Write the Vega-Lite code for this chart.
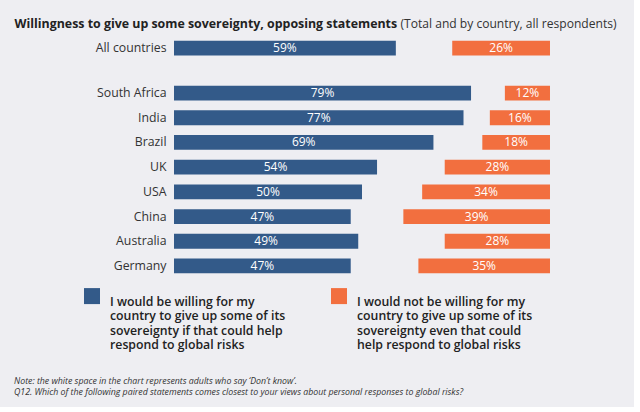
{
  "$schema": "https://vega.github.io/schema/vega-lite/v6.json",
  "background": "#eeeef2",
  "padding": {"left": 14, "top": 16.7, "right": 17, "bottom": 10},
  "autosize": {"type": "pad"},
  "config": {
    "font": "Open Sans",
    "view": {"stroke": null},
    "axis": {"grid": false, "domain": false, "ticks": false},
    "axisY": {"labelFontSize": 12.3, "labelColor": "#333333", "labelPadding": 8},
    "concat": {"spacing": 20},
    "legend": {
      "orient": "none",
      "legendX": -90,
      "legendY": 252,
      "direction": "horizontal",
      "columns": 2,
      "symbolType": "square",
      "symbolSize": 256,
      "symbolStrokeWidth": 0,
      "symbolOpacity": 1,
      "labelFontSize": 12.3,
      "labelFontWeight": 600,
      "labelColor": "#222222",
      "labelLimit": 300,
      "labelBaseline": "top",
      "labelOffset": 10,
      "columnPadding": 45
    }
  },
  "datasets": {
    "total": [
      {"country": "All countries", "willing": 0.59, "notWilling": 0.26}
    ],
    "countries": [
      {"country": "South Africa", "willing": 0.79, "notWilling": 0.12},
      {"country": "India", "willing": 0.77, "notWilling": 0.16},
      {"country": "Brazil", "willing": 0.69, "notWilling": 0.18},
      {"country": "UK", "willing": 0.54, "notWilling": 0.28},
      {"country": "USA", "willing": 0.50, "notWilling": 0.34},
      {"country": "China", "willing": 0.47, "notWilling": 0.39},
      {"country": "Australia", "willing": 0.49, "notWilling": 0.28},
      {"country": "Germany", "willing": 0.47, "notWilling": 0.35}
    ]
  },
  "title": {
    "text": [
      "Note: the white space in the chart represents adults who say ‘Don’t know’.",
      "Q12. Which of the following paired statements comes closest to your views about personal responses to global risks?"
    ],
    "orient": "bottom",
    "anchor": "start",
    "frame": "bounds",
    "fontSize": 8.8,
    "fontStyle": "italic",
    "fontWeight": "normal",
    "color": "#333333",
    "lineHeight": 11,
    "offset": 25
  },
  "vconcat": [
    {
      "data": {"name": "total"},
      "width": 376,
      "height": 24.7,
      "encoding": {
        "y": {
          "field": "country",
          "type": "nominal",
          "sort": null,
          "scale": {"paddingInner": 0.4, "paddingOuter": 0.2},
          "axis": {
            "title": "Willingness to give up some sovereignty, opposing statements",
            "titleAngle": 0,
            "titleAlign": "left",
            "titleBaseline": "alphabetic",
            "titleX": -160,
            "titleY": -8.65,
            "titleFontSize": 12.4,
            "titleFontWeight": "bold",
            "titleColor": "#222222"
          }
        }
      },
      "layer": [
        {
          "mark": {"type": "bar"},
          "encoding": {
            "x": {
              "field": "willing",
              "type": "quantitative",
              "scale": {"domain": [0, 1]},
              "axis": {
                "orient": "top",
                "labels": false,
                "title": "(Total and by country, all respondents)",
                "titleX": 226,
                "titleY": -8.65,
                "titleAlign": "left",
                "titleBaseline": "alphabetic",
                "titleFontSize": 12.1,
                "titleFontWeight": "normal",
                "titleColor": "#333333"
              }
            },
            "color": {
              "datum": "willing",
              "scale": {"domain": ["willing", "not"], "range": ["#335a89", "#f26f3f"]},
              "legend": {
                "title": null,
                "labelExpr": "datum.value == 'willing' ? ['I would be willing for my', 'country to give up some of its', 'sovereignty if that could help', 'respond to global risks'] : ['I would not be willing for my', 'country to give up some of its', 'sovereignty even that could', 'help respond to global risks']"
              }
            }
          }
        },
        {
          "mark": {"type": "bar"},
          "encoding": {
            "x": {
              "field": "notWilling",
              "type": "quantitative",
              "scale": {"domain": [0, 1], "reverse": true},
              "axis": null
            },
            "color": {
              "datum": "not",
              "scale": {"domain": ["willing", "not"], "range": ["#335a89", "#f26f3f"]}
            }
          }
        },
        {
          "mark": {"type": "text", "color": "white", "fontSize": 12},
          "encoding": {
            "x": {"field": "willing", "type": "quantitative", "scale": {"domain": [0, 2]}, "axis": null},
            "text": {"field": "willing", "type": "quantitative", "format": ".0%"}
          }
        },
        {
          "mark": {"type": "text", "color": "white", "fontSize": 12},
          "encoding": {
            "x": {"field": "notWilling", "type": "quantitative", "scale": {"domain": [0, 2], "reverse": true}, "axis": null},
            "text": {"field": "notWilling", "type": "quantitative", "format": ".0%"}
          }
        }
      ],
      "resolve": {"scale": {"x": "independent"}}
    },
    {
      "data": {"name": "countries"},
      "width": 376,
      "height": 197.6,
      "encoding": {
        "y": {
          "field": "country",
          "type": "nominal",
          "sort": null,
          "scale": {"paddingInner": 0.4, "paddingOuter": 0.2},
          "axis": {"title": null}
        }
      },
      "layer": [
        {
          "mark": {"type": "bar"},
          "encoding": {
            "x": {"field": "willing", "type": "quantitative", "scale": {"domain": [0, 1]}, "axis": null},
            "color": {
              "datum": "willing",
              "scale": {"domain": ["willing", "not"], "range": ["#335a89", "#f26f3f"]}
            }
          }
        },
        {
          "mark": {"type": "bar"},
          "encoding": {
            "x": {"field": "notWilling", "type": "quantitative", "scale": {"domain": [0, 1], "reverse": true}, "axis": null},
            "color": {
              "datum": "not",
              "scale": {"domain": ["willing", "not"], "range": ["#335a89", "#f26f3f"]}
            }
          }
        },
        {
          "mark": {"type": "text", "color": "white", "fontSize": 12},
          "encoding": {
            "x": {"field": "willing", "type": "quantitative", "scale": {"domain": [0, 2]}, "axis": null},
            "text": {"field": "willing", "type": "quantitative", "format": ".0%"}
          }
        },
        {
          "mark": {"type": "text", "color": "white", "fontSize": 12},
          "encoding": {
            "x": {"field": "notWilling", "type": "quantitative", "scale": {"domain": [0, 2], "reverse": true}, "axis": null},
            "text": {"field": "notWilling", "type": "quantitative", "format": ".0%"}
          }
        }
      ],
      "resolve": {"scale": {"x": "independent"}}
    }
  ]
}
